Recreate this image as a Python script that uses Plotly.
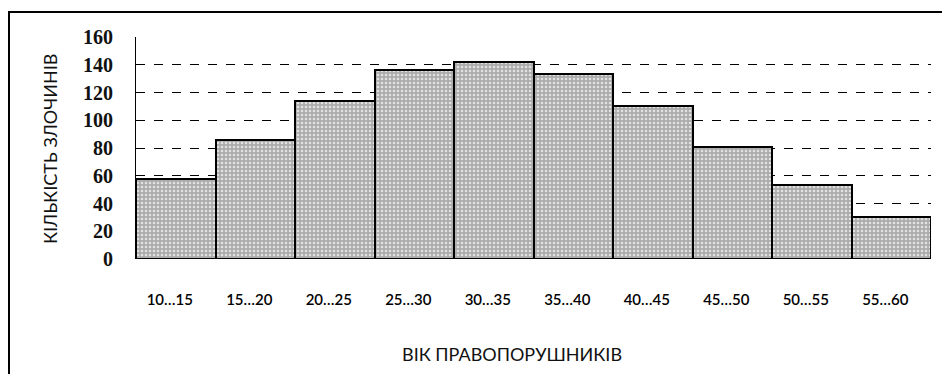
import plotly.graph_objects as go

# Age groups of offenders and number of offences in each group
age_groups = ["10…15", "15…20", "20…25", "25…30", "30…35",
              "35…40", "40…45", "45…50", "50…55", "55…60"]
offences = [58, 86, 114, 136, 142, 133, 110, 81, 53, 30]
y_ticks = [0, 20, 40, 60, 80, 100, 120, 140, 160]

W, H = 942, 374
L, R, T, B = 136, 11, 37, 115

fig = go.Figure(
    go.Bar(
        x=age_groups,
        y=offences,
        marker=dict(
            color="#b4b4b4",
            line=dict(color="black", width=2),
            pattern=dict(shape=".", fgcolor="#e2e2e2", bgcolor="#ababab",
                         size=4, solidity=0.35, fillmode="replace"),
        ),
        hoverinfo="x+y",
    )
)

pw = W - L - R
ph = H - T - B


def px_x(p):
    return (p - L) / pw


def px_y(p):
    return (H - B - p) / ph


fig.update_layout(
    width=W,
    height=H,
    margin=dict(l=L, r=R, t=T, b=B, pad=0),
    paper_bgcolor="white",
    plot_bgcolor="white",
    bargap=0,
    showlegend=False,
    xaxis=dict(
        type="category",
        range=[-0.5, len(age_groups) - 0.5],
        showgrid=False,
        showline=False,
        zeroline=False,
        ticks="",
        ticklabelstandoff=30,
        ticklabelshift=-6,
        tickfont=dict(family="Lato", size=15, color="#000000", weight=600),
    ),
    yaxis=dict(
        range=[0, 160],
        tickvals=y_ticks,
        showgrid=True,
        gridcolor="black",
        gridwidth=1,
        griddash="dash",
        showline=True,
        linecolor="black",
        linewidth=1,
        zeroline=False,
        ticks="",
        ticklabelstandoff=18,
        tickfont=dict(family="Liberation Serif", size=20, color="#111111",
                      weight="bold"),
    ),
    annotations=[
        dict(text="КІЛЬКІСТЬ ЗЛОЧИНІВ", textangle=-90,
             xref="paper", yref="paper", x=px_x(50), y=px_y(149),
             xanchor="center", yanchor="middle", showarrow=False,
             font=dict(family="Lato", size=18, color="#111111")),
        dict(text="ВІК ПРАВОПОРУШНИКІВ",
             xref="paper", yref="paper", x=px_x(512), y=px_y(354),
             xanchor="center", yanchor="middle", showarrow=False,
             font=dict(family="Lato", size=18, color="#111111")),
    ],
    shapes=[
        dict(type="line", xref="paper", yref="paper",
             x0=px_x(9), x1=px_x(9), y0=px_y(11), y1=px_y(H + 5),
             line=dict(color="black", width=2)),
        dict(type="line", xref="paper", yref="paper",
             x0=px_x(8), x1=px_x(W + 5), y0=px_y(12), y1=px_y(12),
             line=dict(color="black", width=2)),
    ],
)

fig.write_html("out.html")
